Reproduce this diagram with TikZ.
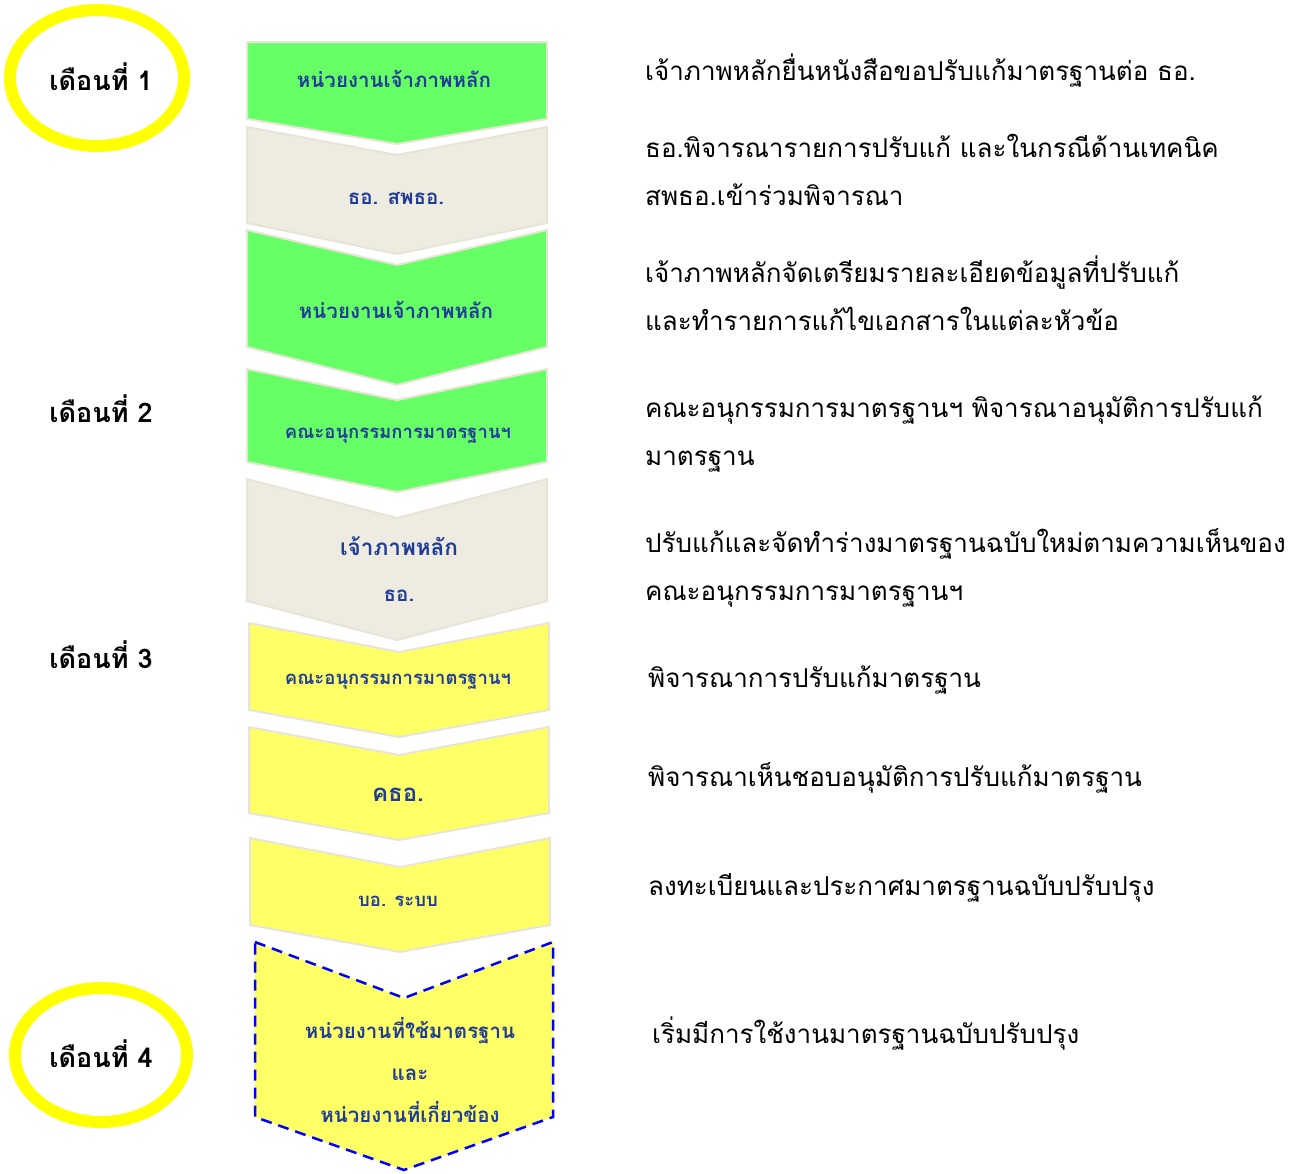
\documentclass[tikz,border=0pt]{standalone}
\usepackage{fontspec}
\newfontfamily\thaifont[Script=Thai]{Loma}
\usetikzlibrary{positioning}
\definecolor{stepgreen}{HTML}{66FF66}
\definecolor{stepbeige}{HTML}{EEECE1}
\definecolor{stepyellow}{HTML}{FFFF66}
\definecolor{stepedge}{HTML}{E8E4D6}
\definecolor{labelblue}{RGB}{32,60,150}
\definecolor{ringyellow}{HTML}{FFFF00}
\definecolor{dashblue}{HTML}{0000FF}

\begin{document}
\begin{tikzpicture}[x=1pt,y=-1pt,
	  every node/.style={inner sep=0pt,font=\thaifont},
	  greenstep/.style={fill=stepgreen,draw=stepedge,line width=2pt},
	  beigestep/.style={fill=stepbeige,draw=stepedge,line width=2pt},
	  yellowstep/.style={fill=stepyellow,draw=stepedge,line width=2pt},
	  laststep/.style={fill=stepyellow,draw=dashblue,line width=2.5pt,dash pattern=on 11pt off 7pt},
	  boxlabel/.style={anchor=base,text=labelblue,font=\thaifont\bfseries\fontsize{20.5}{24}\selectfont},
	  smalllabel/.style={anchor=base,text=labelblue,font=\thaifont\bfseries\fontsize{18.5}{22}\selectfont},
	  biglabel/.style={anchor=base,text=labelblue,font=\thaifont\bfseries\fontsize{22.5}{26}\selectfont},
	  boardlabel/.style={anchor=base,text=labelblue,font=\thaifont\bfseries\fontsize{24}{28}\selectfont},
	  month/.style={anchor=base,text=black,font=\thaifont\bfseries\fontsize{27}{32}\selectfont},
	  ring/.style={draw=ringyellow,line width=12pt},
	  note/.style={anchor=base west,text=black,font=\thaifont\fontsize{26}{32}\selectfont}]

	  \useasboundingbox[fill=white] (0,0) rectangle (1296,1173);

	  % chevrons, top to bottom
	  \draw[greenstep] (247,42) -- (547,42) -- (547,119) -- (397,144) -- (247,119) -- cycle;
	  \draw[beigestep] (247,127) -- (397,155) -- (547,127) -- (547,223) -- (397,254) -- (247,223) -- cycle;
	  \draw[greenstep] (247,230) -- (397,265) -- (547,230) -- (547,347) -- (397,385) -- (247,347) -- cycle;
	  \draw[greenstep] (247,369) -- (397,400) -- (547,369) -- (547,462) -- (397,492) -- (247,462) -- cycle;
	  \draw[beigestep] (247,479) -- (397,518) -- (547,479) -- (547,601) -- (397,640) -- (247,601) -- cycle;
	  \draw[yellowstep] (249,623) -- (399,652) -- (549,623) -- (549,710) -- (399,737) -- (249,710) -- cycle;
	  \draw[yellowstep] (249,727) -- (399,755) -- (549,727) -- (549,813) -- (399,840) -- (249,813) -- cycle;
	  \draw[yellowstep] (250,838) -- (400,867) -- (550,838) -- (550,925) -- (400,952) -- (250,925) -- cycle;
	  \draw[laststep] (255,942) -- (404,998) -- (553,942) -- (553,1117) -- (404,1170) -- (255,1117) -- cycle;

	  % texts in the chevrons
	  \node[boxlabel] (owner) at (394,87) {หน่วยงานเจ้าภาพหลัก};
	  \node[boxlabel] (review) at (396,204) {ธอ. สพธอ.};
	  \node[boxlabel] (prepare) at (396,318) {หน่วยงานเจ้าภาพหลัก};
	  \node[smalllabel] (subcom) at (398,438) {คณะอนุกรรมการมาตรฐานฯ};
	  \node[biglabel] (draftowner) at (399,555) {เจ้าภาพหลัก};
	  \node[boxlabel] (draftto) at (399,601) {ธอ.};
	  \node[smalllabel] (subcomtwo) at (398,684) {คณะอนุกรรมการมาตรฐานฯ};
	  \node[boardlabel] (board) at (398,801) {คธอ.};
	  \node[smalllabel] (register) at (398,906) {บอ. ระบบ};
	  \node[boxlabel] (users) at (410,1038) {หน่วยงานที่ใช้มาตรฐาน};
	  \node[boxlabel] (and) at (410,1080) {และ};
	  \node[boxlabel] (related) at (410,1122) {หน่วยงานที่เกี่ยวข้อง};

	  % months
	  \draw[ring] (97,78) ellipse (87pt and 68pt);
	  \draw[ring] (101,1055) ellipse (86pt and 67pt);
	  \node[month] (monthone) at (101,90) {เดือนที่ 1};
	  \node[month] (monthtwo) at (101,422) {เดือนที่ 2};
	  \node[month] (monththree) at (101,668) {เดือนที่ 3};
	  \node[month] (monthfour) at (101,1067) {เดือนที่ 4};

	  % descriptions
	  \node[note] (noteone) at (645,80) {เจ้าภาพหลักยื่นหนังสือขอปรับแก้มาตรฐานต่อ ธอ.};
	  \node[note] (notetwo) at (645,157) {ธอ.พิจารณารายการปรับแก้ และในกรณีด้านเทคนิค};
	  \node[note] (notetwob) at (645,205) {สพธอ.เข้าร่วมพิจารณา};
	  \node[note] (notethree) at (645,282) {เจ้าภาพหลักจัดเตรียมรายละเอียดข้อมูลที่ปรับแก้};
	  \node[note] (notethreeb) at (645,330) {และทำรายการแก้ไขเอกสารในแต่ละหัวข้อ};
	  \node[note] (notefour) at (645,417) {คณะอนุกรรมการมาตรฐานฯ พิจารณาอนุมัติการปรับแก้};
	  \node[note] (notefourb) at (645,465) {มาตรฐาน};
	  \node[note] (notefive) at (645,552) {ปรับแก้และจัดทำร่างมาตรฐานฉบับใหม่ตามความเห็นของ};
	  \node[note] (notefiveb) at (645,600) {คณะอนุกรรมการมาตรฐานฯ};
	  \node[note] (notesix) at (648,687) {พิจารณาการปรับแก้มาตรฐาน};
	  \node[note] (noteseven) at (648,786) {พิจารณาเห็นชอบอนุมัติการปรับแก้มาตรฐาน};
	  \node[note] (noteeight) at (648,895) {ลงทะเบียนและประกาศมาตรฐานฉบับปรับปรุง};
	  \node[note] (notenine) at (652,1043) {เริ่มมีการใช้งานมาตรฐานฉบับปรับปรุง};

\end{tikzpicture}
\end{document}
